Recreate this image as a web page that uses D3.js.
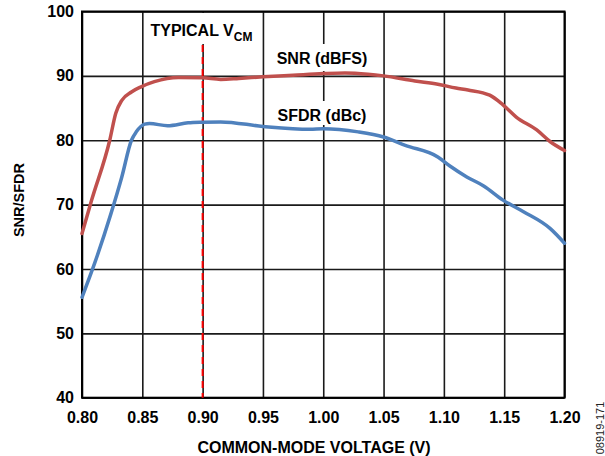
<!DOCTYPE html>
<html>
<head>
<meta charset="utf-8">
<script src="https://cdn.jsdelivr.net/npm/d3@7"></script>
<style>
  html, body { margin: 0; padding: 0; background: #fff; }
  svg { display: block; font-family: Arial, "Liberation Sans", Helvetica, sans-serif; }
</style>
</head>
<body>
<svg id="chart" width="605" height="456"></svg>
<script>
// ---- data ----
const xTicks = [0.80, 0.85, 0.90, 0.95, 1.00, 1.05, 1.10, 1.15, 1.20];
const yTicks = [40, 50, 60, 70, 80, 90, 100];
const typicalVcm = 0.90;

const snrX = [0.800, 0.808, 0.823, 0.828, 0.833, 0.841, 0.849, 0.860, 0.880, 0.900, 0.915, 0.930, 0.950, 0.975, 1.000, 1.018, 1.037, 1.050, 1.076, 1.095, 1.110, 1.120, 1.138, 1.149, 1.160, 1.177, 1.188, 1.200];
const snrY = [65.5, 70.7, 80.0, 84.2, 86.2, 87.5, 88.3, 89.1, 89.75, 89.7, 89.45, 89.6, 89.85, 90.1, 90.35, 90.45, 90.26, 90.0, 89.2, 88.7, 88.1, 87.8, 87.0, 85.5, 83.6, 81.6, 79.8, 78.4];

const sfdrX = [0.800, 0.8105, 0.824, 0.833, 0.841, 0.845, 0.852, 0.856, 0.871, 0.888, 0.900, 0.915, 0.950, 0.989, 1.000, 1.029, 1.050, 1.068, 1.095, 1.105, 1.119, 1.133, 1.149, 1.166, 1.188, 1.200];
const sfdrY = [55.6, 60.9, 68.6, 74.3, 80.0, 81.3, 82.5, 82.6, 82.25, 82.7, 82.8, 82.85, 82.15, 81.7, 81.8, 81.3, 80.5, 79.2, 77.4, 76.0, 74.3, 72.9, 70.7, 68.9, 66.3, 64.0];

// ---- layout ----
const svg = d3.select("#chart");
const L = 82, R = 564.5, T = 11.5, B = 397.7;
const x = d3.scaleLinear().domain([0.8, 1.2]).range([L, R]);
const y = d3.scaleLinear().domain([40, 100]).range([B, T]);

const FONT = "Arial, 'Liberation Sans', Helvetica, sans-serif";

// grid via axes
const gx = svg.append("g").attr("transform", `translate(0,${B})`)
  .call(d3.axisBottom(x).tickValues(xTicks).tickSize(-(B - T)).tickFormat(d3.format(".2f")).tickPadding(14));
gx.select(".domain").remove();
gx.selectAll(".tick line").attr("stroke", "#1a1a1a").attr("stroke-width", 1.6);
gx.selectAll(".tick text").attr("font-family", FONT).attr("font-size", 16).attr("font-weight", "bold").attr("fill", "#000");

const gy = svg.append("g").attr("transform", `translate(${L},0)`)
  .call(d3.axisLeft(y).tickValues(yTicks).tickSize(-(R - L)).tickFormat(d3.format("d")).tickPadding(8));
gy.select(".domain").remove();
gy.selectAll(".tick line").attr("stroke", "#1a1a1a").attr("stroke-width", 1.6);
gy.selectAll(".tick text").attr("font-family", FONT).attr("font-size", 16).attr("font-weight", "bold").attr("fill", "#000");

// label background boxes (hide gridlines behind labels)
svg.append("rect").attr("x", 146).attr("y", 13).attr("width", 113).attr("height", 31).attr("fill", "#fff");
svg.append("rect").attr("x", 274).attr("y", 44).attr("width", 97).attr("height", 27).attr("fill", "#fff");
svg.append("rect").attr("x", 274).attr("y", 101).attr("width", 97).attr("height", 24).attr("fill", "#fff");

// plot border
svg.append("rect").attr("x", L).attr("y", T).attr("width", R - L).attr("height", B - T)
  .attr("fill", "none").attr("stroke", "#000").attr("stroke-width", 2);

// typical VCM dashed line
svg.append("line").attr("x1", x(typicalVcm)).attr("x2", x(typicalVcm)).attr("y1", 45).attr("y2", B)
  .attr("stroke", "#ff0000").attr("stroke-width", 2).attr("stroke-dasharray", "7,5");

// curves
const line = d3.line().x(d => x(d[0])).y(d => y(d[1])).curve(d3.curveMonotoneX);
const snr = snrX.map((v, i) => [v, snrY[i]]);
const sfdr = sfdrX.map((v, i) => [v, sfdrY[i]]);
svg.append("path").datum(snr).attr("d", line).attr("fill", "none")
  .attr("stroke", "#c0504d").attr("stroke-width", 3.5).attr("stroke-linejoin", "round").attr("stroke-linecap", "round");
svg.append("path").datum(sfdr).attr("d", line).attr("fill", "none")
  .attr("stroke", "#4f81bd").attr("stroke-width", 3.5).attr("stroke-linejoin", "round").attr("stroke-linecap", "round");

// annotations
const typ = svg.append("text").attr("x", 150.5).attr("y", 35.5)
  .attr("font-family", FONT).attr("font-size", 16).attr("font-weight", "bold").attr("fill", "#000");
typ.append("tspan").text("TYPICAL V");
typ.append("tspan").attr("dy", 5).attr("font-size", 12).text("CM");

svg.append("text").attr("x", 322).attr("y", 63.5).attr("text-anchor", "middle")
  .attr("font-family", FONT).attr("font-size", 16).attr("font-weight", "bold").text("SNR (dBFS)");
svg.append("text").attr("x", 322).attr("y", 120.5).attr("text-anchor", "middle")
  .attr("font-family", FONT).attr("font-size", 16).attr("font-weight", "bold").text("SFDR (dBc)");

// axis titles
svg.append("text").attr("x", 314).attr("y", 453).attr("text-anchor", "middle")
  .attr("font-family", FONT).attr("font-size", 16).attr("font-weight", "bold").text("COMMON-MODE VOLTAGE (V)");
svg.append("text").attr("transform", "translate(23.5,200) rotate(-90)").attr("text-anchor", "middle")
  .attr("font-family", FONT).attr("font-size", 14.5).attr("font-weight", "bold").text("SNR/SFDR");

// figure id
svg.append("text").attr("transform", "translate(603.5,428) rotate(-90)").attr("text-anchor", "middle")
  .attr("font-family", FONT).attr("font-size", 11).attr("fill", "#222").text("08919-171");
</script>
</body>
</html>
